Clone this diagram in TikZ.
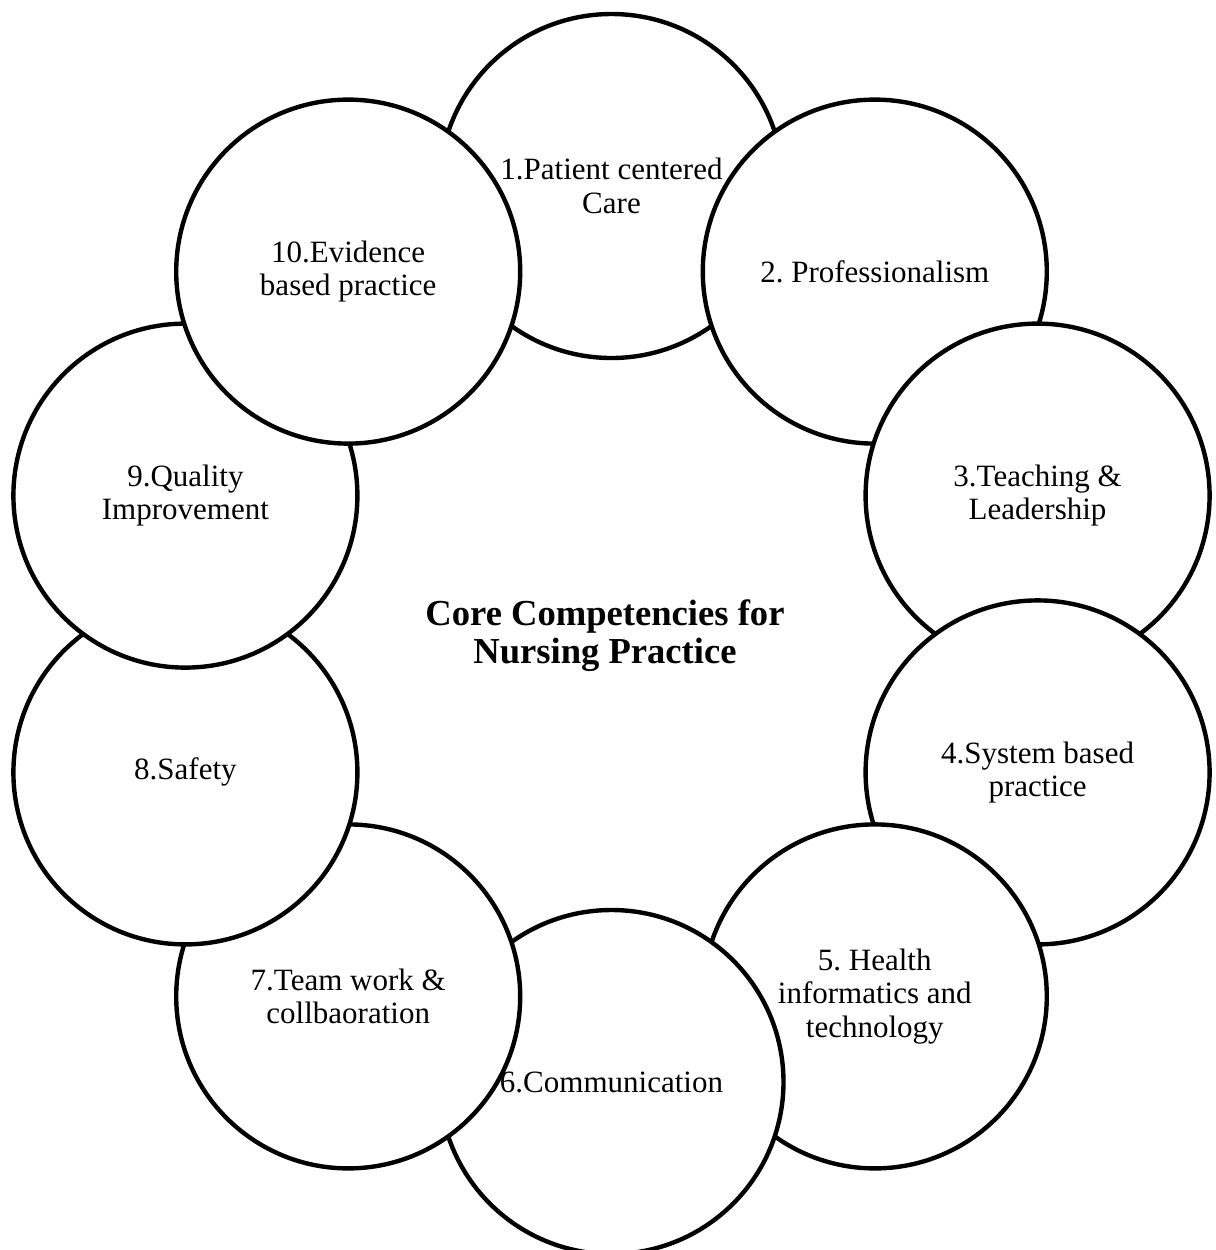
\documentclass[tikz,border=0pt]{standalone}
\usepackage{fontspec}
\setmainfont{Liberation Serif}
\frenchspacing
\begin{document}
\tikzset{
  comp/.style={circle, draw=black, line width=2.2pt, fill=white, minimum size=172pt,
    inner sep=0pt, align=center, font=\fontsize{15.5}{16.75}\selectfont},
  titletext/.style={align=center, inner sep=0pt, font=\bfseries\fontsize{18.3}{19}\selectfont}
}
\begin{tikzpicture}[x=0.5pt,y=-0.5pt]
\path[use as bounding box, fill=white] (0,0) rectangle (1216,1250);
\node[comp] (c1) at (611.5,186) {1.Patient centered\\Care};
\node[comp] (c2) at (874.8,271.6) {2. Professionalism};
\node[comp] (c3) at (1037.6,495.6) {3.Teaching \&\\Leadership};
\node[comp] (c4) at (1037.6,772.4) {4.System based\\practice};
\node[comp] (c5) at (874.8,996.4) {5. Health\\informatics and\\technology};
\node[comp] (c6) at (611.5,1082) {6.Communication};
\node[comp] (c7) at (348.2,996.4) {7.Team work \&\\collbaoration};
\node[comp] (c8) at (185.4,772.4) {8.Safety};
\node[comp] (c9) at (185.4,495.6) {9.Quality\\Improvement};
\node[comp] (c10) at (348.2,271.6) {10.Evidence\\based practice};
\node[titletext] (title) at (605,636) {Core Competencies for\\Nursing Practice};
\end{tikzpicture}
\end{document}
